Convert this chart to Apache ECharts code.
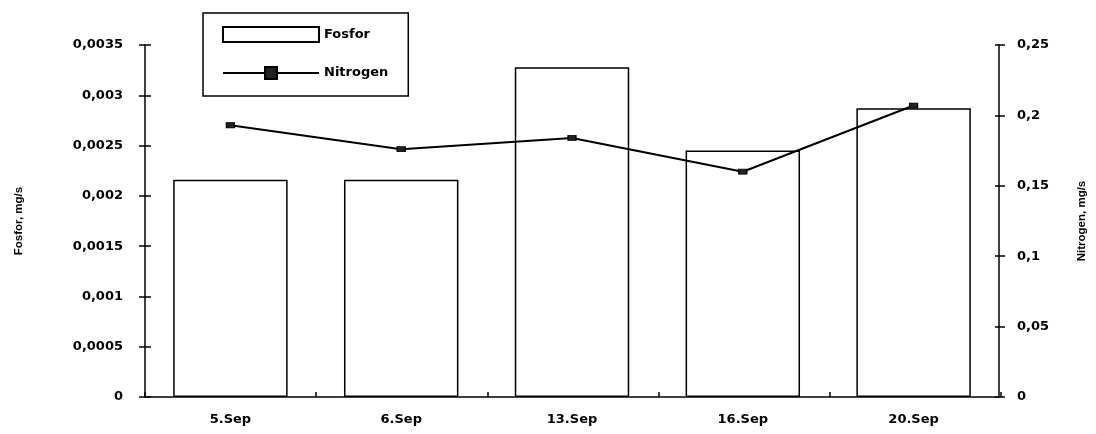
<!DOCTYPE html>
<html>
<head>
<meta charset="utf-8">
<script src="https://cdn.jsdelivr.net/npm/echarts@6/dist/echarts.min.js"></script>
<style>
  html, body { margin: 0; padding: 0; background: #fff; }
  #chart { width: 1096px; height: 434px; }
</style>
</head>
<body>
<div id="chart"></div>
<script>
// data
const dates = ['5.Sep', '6.Sep', '13.Sep', '16.Sep', '20.Sep']
const fosfor = [0.00216, 0.00216, 0.00328, 0.00245, 0.00287]
const nitrogen = [0.193, 0.176, 0.184, 0.160, 0.207]
const leftTicks = { min: 0, max: 0.0035, interval: 0.0005 }
const rightTicks = { min: 0, max: 0.25, interval: 0.05 }

const labelFont = {
  color: '#000',
  fontFamily: 'DejaVu Sans',
  fontWeight: 'bold',
  fontSize: 13
}
const nameFont = { color: '#000', fontFamily: 'Liberation Sans', fontWeight: 'bold', fontSize: 11.5 }
const comma = v => String(v).replace('.', ',')
const blackLine = { lineStyle: { color: '#000', width: 1.5 } }
const hiddenLine = { show: true, lineStyle: { color: 'rgba(0,0,0,0)' } }
const box = { left: 145, right: 95, top: 45, bottom: 37 }

const myChart = echarts.init(document.getElementById('chart'))
myChart.setOption({
  animation: false,
  backgroundColor: '#fff',
  // second grid on the same box only carries the inner half of the cross ticks
  grid: [{ ...box }, { ...box }],
  legend: {
    left: 203,
    top: 13,
    orient: 'vertical',
    itemWidth: 96,
    itemHeight: 15,
    itemGap: 23,
    padding: [13, 20, 16, 19],
    borderColor: '#000',
    borderWidth: 1.5,
    textStyle: { ...labelFont },
    data: [{ name: 'Fosfor', icon: 'rect' }, { name: 'Nitrogen' }]
  },
  xAxis: [
    {
      type: 'category',
      gridIndex: 0,
      data: dates,
      axisLine: blackLine,
      axisTick: { length: 5, ...blackLine },
      axisLabel: { ...labelFont, margin: 16 }
    },
    {
      type: 'category',
      gridIndex: 1,
      data: dates,
      axisLine: hiddenLine,
      axisTick: { show: true, inside: true, length: 5, ...blackLine },
      axisLabel: { show: false }
    }
  ],
  yAxis: [
    {
      type: 'value',
      gridIndex: 0,
      ...leftTicks,
      name: 'Fosfor, mg/s',
      nameLocation: 'middle',
      nameGap: 120,
      nameTextStyle: nameFont,
      splitLine: { show: false },
      axisLine: { show: true, ...blackLine },
      axisTick: { show: true, length: 6, ...blackLine },
      axisLabel: { ...labelFont, margin: 22, formatter: comma }
    },
    {
      type: 'value',
      gridIndex: 0,
      ...rightTicks,
      position: 'right',
      name: 'Nitrogen, mg/s',
      nameLocation: 'middle',
      nameGap: 77,
      nameTextStyle: nameFont,
      splitLine: { show: false },
      axisLine: { show: true, ...blackLine },
      axisTick: { show: true, length: 6, ...blackLine },
      axisLabel: { ...labelFont, margin: 18, formatter: comma }
    },
    {
      type: 'value',
      gridIndex: 1,
      ...leftTicks,
      position: 'left',
      splitLine: { show: false },
      axisLine: hiddenLine,
      axisTick: { show: true, inside: true, length: 6, ...blackLine },
      axisLabel: { show: false }
    },
    {
      type: 'value',
      gridIndex: 1,
      ...rightTicks,
      position: 'right',
      splitLine: { show: false },
      axisLine: hiddenLine,
      axisTick: { show: true, inside: true, length: 6, ...blackLine },
      axisLabel: { show: false }
    }
  ],
  series: [
    {
      name: 'Fosfor',
      type: 'bar',
      xAxisIndex: 0,
      yAxisIndex: 0,
      data: fosfor,
      barCategoryGap: '33%',
      itemStyle: { color: '#fff', borderColor: '#000', borderWidth: 1.5 }
    },
    {
      name: 'Nitrogen',
      type: 'line',
      xAxisIndex: 0,
      yAxisIndex: 1,
      data: nitrogen,
      symbol: 'rect',
      symbolSize: [8, 5],
      lineStyle: { color: '#000', width: 2 },
      itemStyle: { color: '#222', borderColor: '#000', borderWidth: 1 }
    },
    // empty series, only so the tick axes of grid 1 get drawn
    { type: 'line', xAxisIndex: 1, yAxisIndex: 2, data: [], silent: true },
    { type: 'line', xAxisIndex: 1, yAxisIndex: 3, data: [], silent: true }
  ]
})
</script>
</body>
</html>
